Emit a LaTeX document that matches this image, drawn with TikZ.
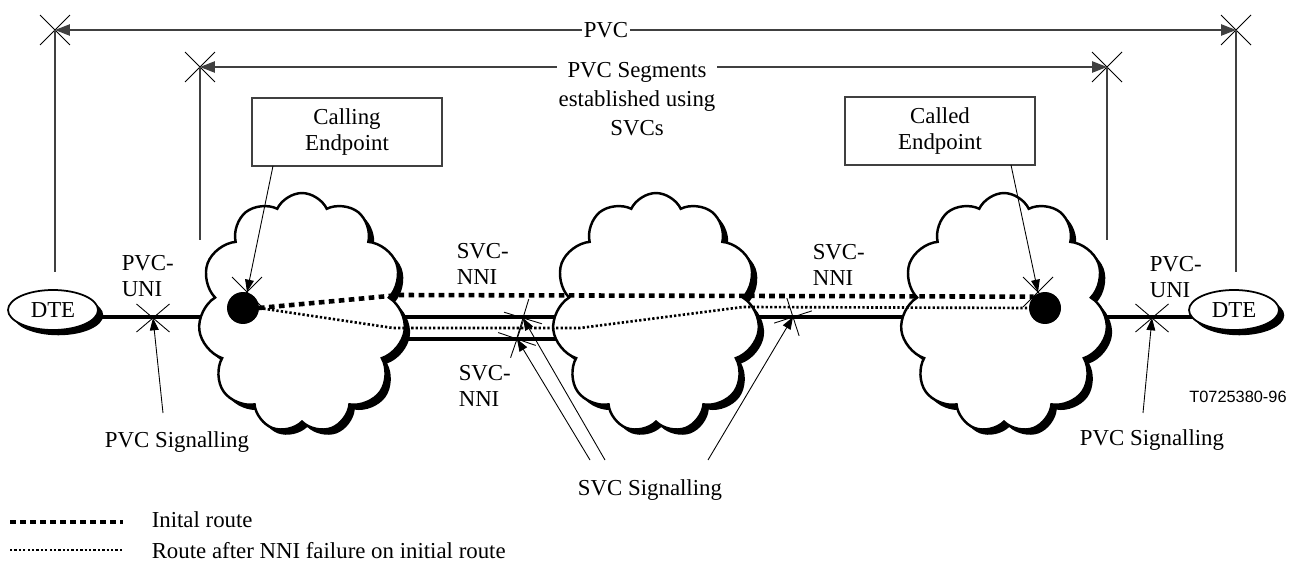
\documentclass[tikz,border=0pt]{standalone}
\usepackage{fontspec}
\setmainfont{Liberation Serif}
\newfontfamily\codefont{Liberation Sans}
\usetikzlibrary{shapes.symbols,shapes.geometric,shapes.misc,shadows,arrows.meta,backgrounds}

\begin{document}
\begin{tikzpicture}[x=0.02cm, y=-0.02cm, font=\fontsize{13}{15}\selectfont, >={Triangle[length=7pt,width=5pt]}]
 \tikzstyle{every node}=[inner sep=1pt, outer sep=0pt]
 \tikzstyle{net}=[cloud, cloud puffs=11, cloud puff arc=130, draw, line width=1.4pt, fill=white, minimum width=4.15cm, minimum height=4.8cm, drop shadow={shadow xshift=3pt, shadow yshift=-3pt, fill=black, opacity=1}]
 \tikzstyle{dte}=[ellipse, draw, line width=1pt, fill=white, minimum width=1.8cm, minimum height=0.8cm, drop shadow={shadow xshift=3pt, shadow yshift=-3pt, fill=black, opacity=1}]
 \tikzstyle{xmark}=[cross out, draw, line width=0.5pt, minimum size=0.6cm, inner sep=0pt]
 \tikzstyle{endbox}=[draw=black!75, line width=0.6pt, fill=white, minimum width=3.8cm, minimum height=1.36cm, align=center]
 \tikzstyle{dot}=[circle, fill, minimum size=0.64cm, inner sep=0pt]
 \tikzstyle{dim}=[draw=black!75, line width=0.6pt]
 \tikzstyle{dimarrow}=[dim, -{Triangle[length=8.5pt,width=6.5pt]}]
 \tikzstyle{sig}=[line width=0.5pt, ->]
 \tikzstyle{link}=[line width=2.2pt]
 \tikzstyle{initroute}=[line width=2.6pt, dash pattern=on 3.2pt off 2.5pt]
 \tikzstyle{newroute}=[line width=1.5pt, dash pattern=on 1.3pt off 1.2pt]
 \tikzstyle{lbl}=[align=left, anchor=west]

 \useasboundingbox (0,0) rectangle (1299,574);

 % networks and end systems
 \node[net] (netA) at (302,313) {};
 \node[net] (netB) at (656,313) {};
 \node[net] (netC) at (1004,313) {};
 \node[dte] (dteL) at (53,310) {DTE};
 \node[dte] (dteR) at (1234,310) {DTE};

 % physical links
 \begin{scope}[on background layer]
  \draw[link] (dteL.center |- 0,317) -- (dteR.center |- 0,317);
  \draw[link] (netA.center |- 0,339) -- (netB.center |- 0,339);
 \end{scope}

 % interfaces
 \node[xmark, minimum width=0.66cm, minimum height=0.56cm] (uniL) at (153,318) {};
 \node[xmark, minimum width=0.66cm, minimum height=0.56cm] (uniR) at (1152,318) {};
 \node[xmark, rotate=28, minimum size=0.56cm] (nniA) at (523,318) {};
 \node[xmark, rotate=26, minimum size=0.56cm] (nniB) at (517,339) {};
 \node[xmark, rotate=-27, minimum size=0.56cm] (nniC) at (793,317) {};

 % endpoints
 \node[xmark] (ckA) at (247,292) {};
 \node[xmark] (ckB) at (1038,292) {};
 \node[dot] (dotA) at (243,308) {};
 \node[dot] (dotB) at (1045,308) {};

 % routes
 \draw[initroute] (dotA.east) -- (400,295) -- (dotB.north west);
 \draw[newroute] (dotA.east) -- (393,328) -- (580,328) -- (743,307) -- (dotB.west);

 % PVC span
 \node[xmark] (pvcL) at (55,30) {};
 \node[xmark] (pvcR) at (1236,30) {};
 \node (pvc) at (606,30) {PVC};
 \draw[dimarrow] (pvc) -- (pvcL.center);
 \draw[dimarrow] (pvc) -- (pvcR.center);
 \draw[dim] (pvcL.center) -- (55,272);
 \draw[dim] (pvcR.center) -- (1236,272);

 % segment span
 \node[xmark] (segL) at (200,67) {};
 \node[xmark] (segR) at (1107,67) {};
 \node[align=center, font=\fontsize{13}{16.4}\selectfont] (seg) at (637,99) {PVC Segments\\established using\\SVCs};
 \draw[dimarrow] (seg.west |- segL) -- (segL.center);
 \draw[dimarrow] (seg.east |- segR) -- (segR.center);
 \draw[dim] (segL.center) -- (200,240);
 \draw[dim] (segR.center) -- (1107,240);

 \node[endbox] (calling) at (347,132) {Calling\\Endpoint};
 \node[endbox] (called) at (940,131) {Called\\Endpoint};
 \draw[sig] (calling.south -| 273,0) -- (ckA.center);
 \draw[sig] (called.south -| 1011,0) -- (ckB.center);

 % labels
 \node[lbl] (uniLtxt) at (120,276) {PVC-\\UNI};
 \node[lbl] (uniRtxt) at (1148,277) {PVC-\\UNI};
 \node[lbl] (nniAtxt) at (455,264) {SVC-\\NNI};
 \node[lbl] (nniBtxt) at (457,386) {SVC-\\NNI};
 \node[lbl] (nniCtxt) at (811,265) {SVC-\\NNI};
 \node (pvcsigL) at (177,442) {PVC Signalling};
 \node (pvcsigR) at (1152,440) {PVC Signalling};
 \node (svcsig) at (650,490) {SVC Signalling};
 \node[font=\codefont\fontsize{9.3}{11}\selectfont] (code) at (1238,397) {T0725380-96};

 % signalling arrows
 \coordinate (sigLfoot) at (163,413);
 \coordinate (sigRfoot) at (1143,413);
 \coordinate (svcA) at (590,460);
 \coordinate (svcB) at (605,460);
 \coordinate (svcC) at (708,460);
 \draw[sig] (sigLfoot) -- (uniL.center);
 \draw[sig] (sigRfoot) -- (uniR.center);
 \draw[sig] (svcA) -- (nniB.center);
 \draw[sig] (svcB) -- (nniA.center);
 \draw[sig] (svcC) -- (nniC.center);

 % legend
 \node[lbl] (legA) at (150,520) {Inital route};
 \node[lbl] (legB) at (150,551) {Route after NNI failure on initial route};
 \draw[initroute] (legA.west) ++(-140,2) -- ++(113,0);
 \draw[newroute] (legB.west) ++(-140,-1) -- ++(113,0);
\end{tikzpicture}
\end{document}
